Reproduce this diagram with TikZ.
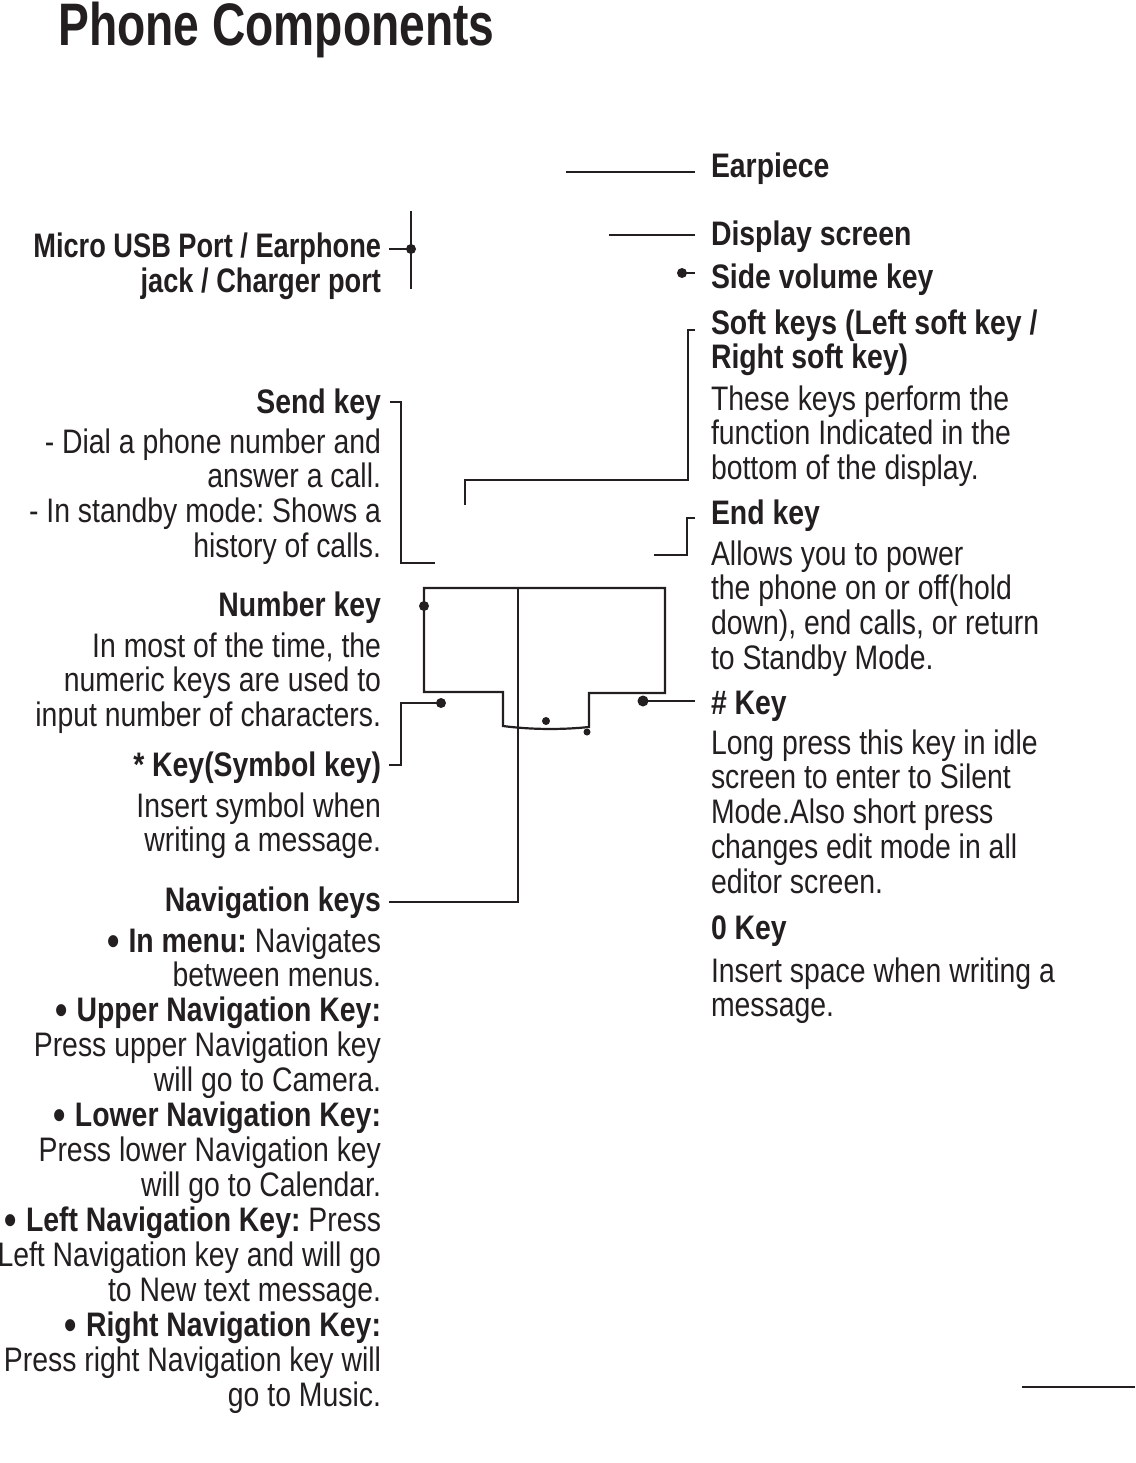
\documentclass[tikz,border=0pt]{standalone}
\usepackage{fontspec}
\setmainfont{Liberation Sans}
\newfontfamily\bodyfam{Liberation Sans}[FakeStretch=0.835]
\newfontfamily\headfam{Liberation Sans}[FakeStretch=0.835]
\newfontfamily\usbfam{Liberation Sans}[FakeStretch=0.80]
\newfontfamily\titlefam{Liberation Sans}[FakeStretch=0.77]
\definecolor{ink}{RGB}{35,31,32}
\frenchspacing
\newcommand\bodyf{\bodyfam\fontsize{34}{34.5}\selectfont\frenchspacing}
\newcommand\hb[1]{{\headfam\bfseries #1}}
\newcommand\hu[1]{{\usbfam\bfseries #1}}
\newcommand\bul{{\headfam\bfseries\fontsize{42}{34.5}\selectfont\raisebox{-3pt}{•}}\hspace{9pt}}
\newcommand\rtab[1]{\begin{tabular}[t]{@{}r@{}}#1\end{tabular}}
\newcommand\ltab[1]{\begin{tabular}[t]{@{}l@{}}#1\end{tabular}}
\begin{document}
\begin{tikzpicture}[x=1pt,y=-1pt,
  lbl/.style={inner sep=0pt, outer sep=0pt, text=ink, font=\bodyf},
  leftlbl/.style={lbl, anchor=base east},
  rightlbl/.style={lbl, anchor=base west},
  conn/.style={draw=ink, line width=2.2pt, line cap=butt, line join=miter},
  thin/.style={draw=ink, line width=1.8pt},
  dotn/.style={circle, fill=ink, inner sep=0pt, outer sep=0pt, minimum size=#1},
  dotn/.default=10pt]
\useasboundingbox (0,0) rectangle (1135,1463);

% title
\node[anchor=base west, inner sep=0pt, text=ink, font=\titlefam\bfseries\fontsize{60}{60}\selectfont] (title) at (58,46) {Phone Components};

% right column
\node[rightlbl] (earpiece) at (711,178) {\hb{Earpiece}};
\node[rightlbl] (display) at (711,245) {\hb{Display screen}};
\node[rightlbl] (volume) at (711,288) {\hb{Side volume key}};
\node[rightlbl] (softhead) at (711,334) {\ltab{\hb{Soft keys (Left soft key /}\\\hb{Right soft key)}}};
\node[rightlbl] (softbody) at (711,410) {\ltab{These keys perform the\\function Indicated in the\\bottom of the display.}};
\node[rightlbl] (endhead) at (711,524) {\hb{End key}};
\node[rightlbl] (endbody) at (711,565) {\ltab{Allows you to power\\the phone on or off(hold\\down), end calls, or return\\to Standby Mode.}};
\node[rightlbl] (hashhead) at (711,714) {\hb{\# Key}};
\node[rightlbl] (hashbody) at (711,754) {\ltab{Long press this key in idle\\screen to enter to Silent\\Mode.Also short press\\changes edit mode in all\\editor screen.}};
\node[rightlbl] (zerohead) at (711,939) {\hb{0 Key}};
\node[rightlbl] (zerobody) at (711,982) {\ltab{Insert space when writing a\\message.}};

% left column
\node[leftlbl] (usb) at (381,258) {\rtab{\hu{Micro USB Port / Earphone}\\\hu{jack / Charger port}}};
\node[leftlbl] (sendhead) at (381,413) {\hb{Send key}};
\node[leftlbl] (sendbody) at (381,453) {\rtab{- Dial a phone number and\\answer a call.\\- In standby mode: Shows a\\history of calls.}};
\node[leftlbl] (numhead) at (381,616) {\hb{Number key}};
\node[leftlbl] (numbody) at (381,657) {\rtab{In most of the time, the\\numeric keys are used to\\input number of characters.}};
\node[leftlbl] (starhead) at (381,776) {\hb{* Key(Symbol key)}};
\node[leftlbl] (starbody) at (381,817) {\rtab{Insert symbol when\\writing a message.}};
\node[leftlbl] (navhead) at (381,911) {\hb{Navigation keys}};
\node[leftlbl] (navbody) at (381,952) {\rtab{\bul\hb{In menu:} Navigates\\between menus.\\\bul\hb{Upper Navigation Key:}\\Press upper Navigation key\\will go to Camera.\\\bul\hb{Lower Navigation Key:}\\Press lower Navigation key\\will go to Calendar.\\\bul\hb{Left Navigation Key:} Press\\Left Navigation key and will go\\to New text message.\\\bul\hb{Right Navigation Key:}\\Press right Navigation key will\\go to Music.}};

% connector end points
\coordinate (earA) at (566,172);   \coordinate (earB) at (695,172);
\coordinate (dispA) at (609,235);  \coordinate (dispB) at (695,235);
\coordinate (volB) at (695,273);
\coordinate (usbT) at (411,211);   \coordinate (usbBt) at (411,289);
\coordinate (usbL) at (389,249);
\coordinate (softA) at (695,330);  \coordinate (softB) at (688,330);
\coordinate (softC) at (688,480);  \coordinate (softD) at (465,480);
\coordinate (softE) at (465,505);
\coordinate (sendA) at (390,402);  \coordinate (sendB) at (401,402);
\coordinate (sendC) at (401,563);  \coordinate (sendD) at (435,563);
\coordinate (endA) at (695,518);   \coordinate (endB) at (687,518);
\coordinate (endC) at (687,555);   \coordinate (endD) at (654,555);
\coordinate (navT) at (518,588);   \coordinate (navC) at (518,902);
\coordinate (navE) at (389,902);
\coordinate (starB) at (401,703);  \coordinate (starC) at (401,765);
\coordinate (starD) at (389,765);
\coordinate (hashB) at (695,701);
\coordinate (pgA) at (1022,1387);  \coordinate (pgB) at (1135,1387);

% phone outline
\coordinate (o1) at (424,588); \coordinate (o2) at (665,588);
\coordinate (o3) at (665,693); \coordinate (o4) at (589,693);
\coordinate (o5) at (589,727); \coordinate (o6) at (503,726);
\coordinate (o7) at (503,692); \coordinate (o8) at (424,692);

% dots
\node[dotn=10pt] (volDot) at (682,273) {};
\node[dotn=10pt] (usbDot) at (411,249) {};
\node[dotn=10pt] (numDot) at (424,606) {};
\node[dotn=10pt] (starDot) at (441,703) {};
\node[dotn=8pt] (zeroDot) at (546,721) {};
\node[dotn=7pt] (zeroDot2) at (587,732) {};
\node[dotn=11pt] (hashDot) at (643,701) {};

% connectors
\draw[conn] (earA) -- (earB);
\draw[conn] (dispA) -- (dispB);
\draw[conn] (volDot.center) -- (volB);
\draw[thin] (usbT) -- (usbBt);
\draw[thin] (usbL) -- (usbDot.center);
\draw[conn] (softA) -- (softB) -- (softC) -- (softD) -- (softE);
\draw[conn] (sendA) -- (sendB) -- (sendC) -- (sendD);
\draw[conn] (endA) -- (endB) -- (endC) -- (endD);
\draw[conn] (o1) -- (o2) -- (o3) -- (o4) -- (o5) .. controls (560,730) and (530,729.5) .. (o6) -- (o7) -- (o8) -- cycle;
\draw[conn] (navT) -- (navC) -- (navE);
\draw[thin] (starDot.center) -- (starB) -- (starC) -- (starD);
\draw[thin] (hashDot.center) -- (hashB);
\draw[conn] (pgA) -- (pgB);
\end{tikzpicture}
\end{document}
